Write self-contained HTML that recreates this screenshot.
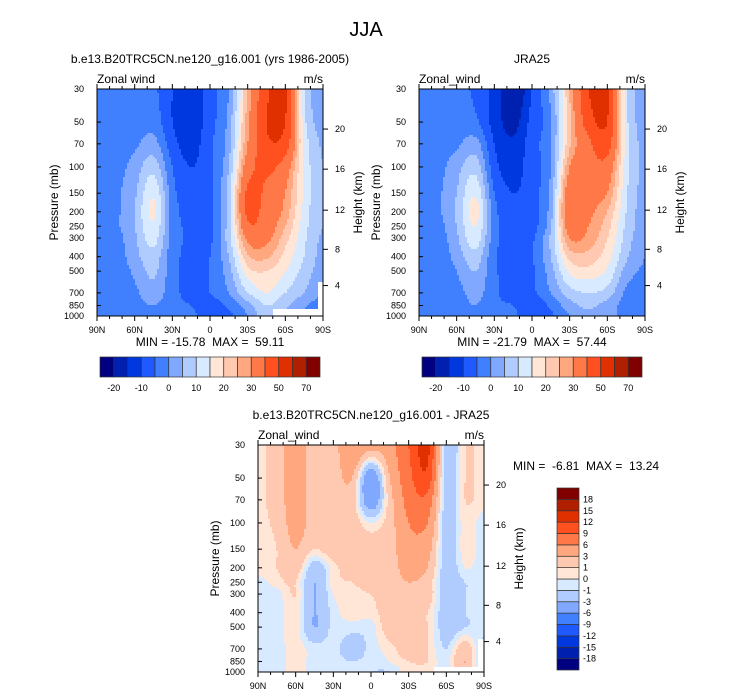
<!DOCTYPE html>
<html><head><meta charset="utf-8">
<style>
body{margin:0;background:#fff;}
svg{display:block;font-family:"Liberation Sans",sans-serif;}
text{white-space:pre;}
</style></head>
<body>
<svg id="fig" width="733" height="696" viewBox="0 0 733 696">
<text x="366" y="36" font-size="20" text-anchor="middle">JJA</text>
</svg>
<script>
const lats = ['90N','75N','60N','45N','30N','15N','0','15S','30S','45S','60S','75S','90S'];
const levels = [30,50,70,100,150,200,250,300,400,500,700,850,1000];
const heightTicks = [20,16,12,8,4];
const heightTickPressures = [55.7,103.5,195,357,625];
const pressureTicks = [30,50,70,100,150,200,250,300,400,500,700,850,1000];
const latTickLabels = ['90N','60N','30N','0','30S','60S','90S'];
const colors = ['#000080','#0020b0','#0038e0','#1e5aff','#4080ff','#80a8ff','#b0ccff','#d8eaff','#ffe6d6','#ffc8b0','#ffa880','#ff7848','#ff5020','#e03000','#b02000','#800000'];
const levelsAbs = [-20,-15,-10,-5,0,5,10,15,20,25,30,40,50,60,70];
const labelsAbs = ['-20','-10','0','10','20','30','50','70'];
const levelsDiff = [-18,-15,-12,-9,-6,-3,-1,0,1,3,6,9,12,15,18];
const modelU = [
[-2,-3,-3,-4,-10,-14,-7,0,25,48,52,10,3],
[-3,-3,-3,-2,-10,-13,-7,2,28,50,50,12,3],
[-3,-3,-1,2,-8,-12,-6,3,30,48,45,14,4],
[-3,-2,2,8,-5,-10,-6,5,35,42,35,14,5],
[-3,-1,4,14,-3,-8,-6,8,42,38,30,14,5],
[-3,-1,5,16,-2,-7,-6,8,42,36,28,13,5],
[-3,-1,5,14,-2,-6,-6,8,38,34,25,12,5],
[-4,-2,4,12,-2,-6,-6,8,32,32,22,11,4],
[-4,-3,3,8,-3,-6,-5,5,24,26,18,10,3],
[-4,-3,1,6,-3,-7,-5,3,18,20,15,8,2],
[-4,-3,-1,3,-3,-7,-5,0,10,15,10,5,0],
[-4,-4,-2,0,-3,-5,-7,-4,3,10,6,1,-3],
[-3,-4,-3,-1,-2,-4,-7,-6,0,8,4,-1,-5]];
const jraU = [
[-3,-4,-4,-6,-12,-20,-10,2,25,50,52,12,3],
[-3,-4,-3,-4,-12,-17,-8,-1,24,45,50,12,3],
[-4,-3,-1,2,-10,-14,-7,0,24,38,44,13,3],
[-4,-2,3,8,-8,-12,-7,0,30,36,36,12,3],
[-4,-1,5,14,-5,-10,-7,2,36,33,30,11,3],
[-4,-1,6,17,-3,-9,-7,3,38,32,25,10,2],
[-4,-2,5,15,-3,-8,-7,4,35,30,22,9,2],
[-4,-3,4,13,-3,-8,-6,6,30,28,20,8,1],
[-4,-4,2,8,-4,-7,-5,5,22,23,17,6,0],
[-4,-4,0,5,-4,-7,-6,3,16,18,14,3,-1],
[-4,-4,-2,2,-4,-7,-6,0,8,10,8,-1,-3],
[-4,-4,-3,0,-4,-5,-8,-4,3,6,3,-2,-4],
[-4,-4,-3,-1,-3,-4,-8,-6,0,4,2,-2,-4]];
const diffU = [
[0.5,2,4,2,2,6,4,5,9,13,-2,1,0.5],
[0.5,2,4,2,2,3,-5,3,8,11,-2,1,0.5],
[0.5,2,4,2,2,2,-5,2,7,8,-2,1,0.5],
[0.5,1.5,4,2,2,2,0,2,6,6,-2,0.5,-0.5],
[0.5,1,3,1,2,2,2,2,5,4,-2,0.5,-0.5],
[0.5,1,2,-2,0.5,2,2,2,4,3,-2,0,-0.5],
[-0.5,0.5,1,-3,0.5,1,2,2,3,2,-2,-1,-0.5],
[-0.5,-0.5,1,-3,0,0.5,1,2,2,2,-2,-1,-0.5],
[-0.5,-0.5,0.5,-3,-0.5,0.5,0.5,2,2,1,-2,-1,-0.5],
[-0.5,-0.5,0.5,-3,-0.5,-0.5,-0.5,2,2,1,-2,-1,-0.5],
[-0.5,-0.5,0.5,-0.5,-0.5,-2,-0.5,0.5,2,1,-1,2,-2],
[-0.5,-0.5,0.5,-0.5,-0.5,-1,-0.5,0,1,1,-0.5,3,-3],
[-0.5,-0.5,0.5,-0.5,-0.5,-0.5,-1,-1,0.5,0.5,-0.5,2,-2]];

const NS='http://www.w3.org/2000/svg';
const fig=document.getElementById('fig');
function mk(tag,attrs,parent){const e=document.createElementNS(NS,tag);for(const k in attrs)e.setAttribute(k,attrs[k]);(parent||fig).appendChild(e);return e;}
function txt(s,x,y,size,anchor,parent){const t=mk('text',{x:x,y:y,'font-size':size,'text-anchor':anchor||'start'},parent);t.textContent=s;return t;}
function colorIdx(v,bounds){let i=0;while(i<bounds.length&&v>=bounds[i])i++;return i;}
function cr(p0,p1,p2,p3,t){return 0.5*((2*p1)+(-p0+p2)*t+(2*p0-5*p1+4*p2-p3)*t*t+(-p0+3*p1-3*p2+p3)*t*t*t);}

function panel(o){
  const g=mk('g',{});
  
  
  const W=o.x1-o.x0,H=o.y1-o.y0;
  const lp0=Math.log(30),lp1=Math.log(1000);
  const yOfP=p=>o.y0+(Math.log(p)-lp0)/(lp1-lp0)*H;
  const levY=levels.map(yOfP);
  const nI=lats.length,nJ=levels.length;
  const d=o.data;
  const at=(j,i)=>d[Math.max(0,Math.min(nJ-1,j))][Math.max(0,Math.min(nI-1,i))];
  function val(x,y){
    const fx=(x-o.x0)/W*(nI-1);
    let i=Math.min(nI-2,Math.max(0,Math.floor(fx)));const tx=Math.min(1,Math.max(0,fx-i));
    let j=0;while(j<nJ-2&&y>levY[j+1])j++;
    const ty=Math.min(1,Math.max(0,(y-levY[j])/(levY[j+1]-levY[j])));
    const rows=[];
    for(let jj=j-1;jj<=j+2;jj++)rows.push(cr(at(jj,i-1),at(jj,i),at(jj,i+1),at(jj,i+2),tx));
    return cr(rows[0],rows[1],rows[2],rows[3],ty);
  }
  const cs=2;
  const field=mk('g',{'shape-rendering':'crispEdges'},g);
  
  
  for(let y=o.y0;y<o.y1;y+=cs){
    let runStart=o.x0,runC=-1;
    for(let x=o.x0;x<=o.x1;x+=cs){
      const c=x<o.x1?colorIdx(val(x+cs/2,y+cs/2),o.bounds):-2;
      if(c!==runC){
        if(runC>=0){const r=mk('rect',{x:runStart,y:y,width:Math.min(x,o.x1)-runStart,height:Math.min(cs,o.y1-y)+0.3,fill:colors[runC]},field);
          
          }
        runStart=x;runC=c;
      }
    }
  }
  if(o.missing){o.missing.forEach(m=>{const r=mk('rect',{x:m[0],y:m[1],width:m[2],height:m[3],fill:'#fff'},g);
    
    });}
  const frame=mk('rect',{x:o.x0,y:o.y0,width:W,height:H,fill:'none',stroke:'#000','stroke-width':1},g);
  
  
  for(let dd=0;dd<=180;dd+=10){
    const x=o.x0+dd/180*W;const L=dd%30===0?5:3;
    mk('line',{x1:x,x2:x,y1:o.y1,y2:o.y1+L,stroke:'#000'},g);
    mk('line',{x1:x,x2:x,y1:o.y0,y2:o.y0-L,stroke:'#000'},g);
  }
  latTickLabels.forEach((s,i)=>{const t=txt(s,o.x0+i/(latTickLabels.length-1)*W,o.y1+17,9,'middle',g);
    
    });
  pressureTicks.forEach(p=>{const y=yOfP(p);
    mk('line',{x1:o.x0,x2:o.x0+4,y1:y,y2:y,stroke:'#000'},g);
    const t=txt(String(p),o.x0-13,y+3,9,'end',g);
    
    });
  heightTicks.forEach((h,k)=>{const y=yOfP(heightTickPressures[k]);
    mk('line',{x1:o.x1,x2:o.x1+5,y1:y,y2:y,stroke:'#000'},g);
    const t=txt(String(h),o.x1+12,y+3,9,'start',g);
    
    });
  const yl=txt('Pressure (mb)',0,0,12,'middle',g);
  yl.setAttribute('transform','translate('+(o.x0-39)+','+((o.y0+o.y1)/2)+') rotate(-90)');
  
  
  const yr=txt('Height (km)',0,0,12,'middle',g);
  yr.setAttribute('transform','translate('+(o.x1+39)+','+((o.y0+o.y1)/2)+') rotate(-90)');
  
  
  const lt=txt(o.left,o.x0,o.y0-6,12,'start',g);
  
  
  const rt=txt('m/s',o.x1,o.y0-6,12,'end',g);
  
  
  const tt=txt(o.title,(o.x0+o.x1)/2,o.y0-26,12,'middle',g);
  
  
  const mm=txt(o.minmax,o.mmx,o.mmy,12,o.mmAnchor,g);
  
  
}

function hbar(x0,x1,y0,y1,name){
  const g=mk('g',{});
  
  
  const w=(x1-x0)/colors.length;
  colors.forEach((c,i)=>{const r=mk('rect',{x:x0+i*w,y:y0,width:w,height:y1-y0,fill:c,stroke:'#333','stroke-width':0.7},g);
    
    });
  labelsAbs.forEach((s,k)=>{const t=txt(s,x0+(2*k+1)*w,y1+14,9,'middle',g);
    
    });
}
function vbar(x0,x1,y0,y1,name){
  const g=mk('g',{});
  
  
  const h=(y1-y0)/colors.length;
  colors.forEach((c,i)=>{const r=mk('rect',{x:x0,y:y1-(i+1)*h,width:x1-x0,height:h,fill:c,stroke:'#333','stroke-width':0.7},g);
    
    });
  levelsDiff.forEach((v,i)=>{const t=txt(String(v),x1+4,y1-(i+1)*h+3,9,'start',g);
    
    });
}

panel({name:'model-panel',x0:97,x1:323,y0:89,y1:316,data:modelU,bounds:levelsAbs,left:'Zonal wind',
  title:'b.e13.B20TRC5CN.ne120_g16.001 (yrs 1986-2005)',minmax:'MIN = -15.78  MAX =  59.11',mmx:210,mmy:346,mmAnchor:'middle',
  missing:[[273,309,45,7],[318,282,5,34]]});
panel({name:'jra25-panel',x0:419,x1:645,y0:89,y1:316,data:jraU,bounds:levelsAbs,left:'Zonal_wind',
  title:'JRA25',minmax:'MIN = -21.79  MAX =  57.44',mmx:532,mmy:346,mmAnchor:'middle'});
panel({name:'difference-panel',x0:258,x1:484,y0:445,y1:672,data:diffU,bounds:levelsDiff,left:'Zonal_wind',
  title:'b.e13.B20TRC5CN.ne120_g16.001 - JRA25',minmax:'MIN =  -6.81  MAX =  13.24',mmx:513,mmy:470,mmAnchor:'start',
  missing:[[434,667,44,5],[478,639,6,33]]});
hbar(100,320,357,377,'model-colorbar');
hbar(422,642,357,377,'jra25-colorbar');
vbar(557,579,488,670,'difference-colorbar');
</script>
</body></html>
